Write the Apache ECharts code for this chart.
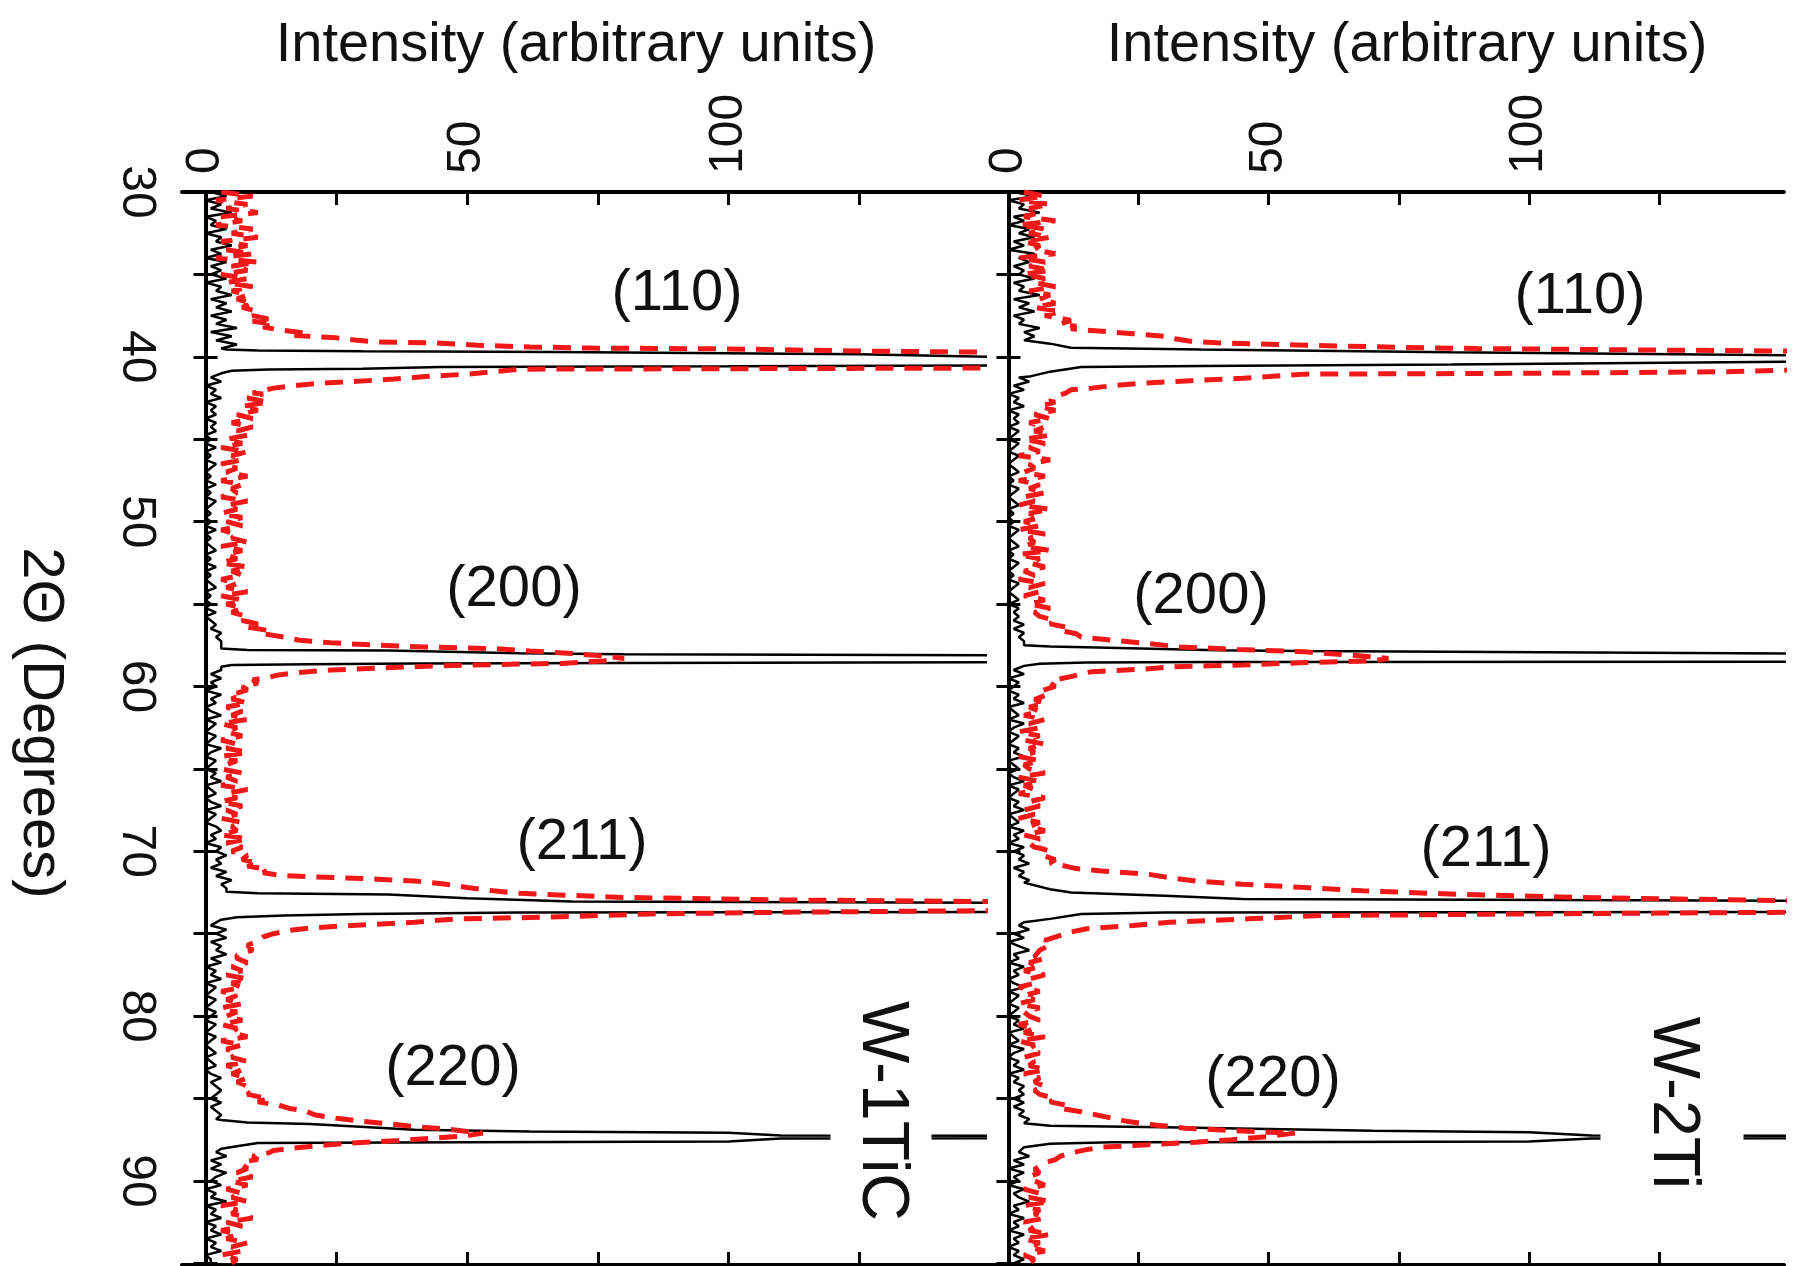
<!DOCTYPE html>
<html>
<head>
<meta charset="utf-8">
<script src="https://cdn.jsdelivr.net/npm/echarts@6/dist/echarts.min.js"></script>
<style>
  html, body { margin: 0; background: #fff; }
  #chart { width: 1806px; height: 1266px; }
</style>
</head>
<body>
<div id="chart"></div>
<script>
// 2theta grid of the background arrays: 30 to 95 deg, every 0.25 deg
var thetaStart = 30;
var thetaStep = 0.25;

var panelNames = ['W-1TiC', 'W-2Ti'];
var peakNames = ['(110)', '(200)', '(211)', '(220)'];
var intensityTicks = [0, 25, 50, 75, 100, 125];
var intensityLabels = [0, 50, 100];

// background counts (W-1TiC)
var blackW1TiCBg = [
  1,4,0,3,1,5,0,2,1,4,0,3,2,5,1,3,0,4,1,3,
  1,4,0,3,2,5,1,4,2,5,1,4,2,6,1,5,2,6,3,5,
  5,5,5,5,3,1,3,0,2,1,3,0,2,1,2,0,2,1,2,0,
  1,0,2,0,1,0,2,1,0,1,0,2,0,1,0,2,1,0,1,0,
  1,0,2,0,1,0,1,2,0,1,0,2,0,1,0,1,2,0,1,0,
  1,0,2,0,1,2,1,3,2,3,3,3,3,3,3,3,3,1,3,1,
  2,0,3,1,2,0,1,3,0,2,1,0,2,1,0,3,1,0,2,1,
  0,2,1,3,0,1,2,0,1,3,0,2,1,0,2,3,1,2,0,3,
  2,4,2,3,1,4,2,5,3,4,4,4,4,4,4,4,4,3,1,4,
  2,4,1,3,2,4,1,3,0,2,1,3,0,2,1,0,2,1,0,2,
  1,0,2,1,0,2,1,0,1,2,0,1,2,0,1,3,1,2,3,2,
  1,3,1,2,3,2,3,3,3,3,3,3,3,2,4,1,3,1,4,2,
  1,3,0,2,1,4,0,2,1,3,0,2,1,3,0,2,1,3,0,1,
  1
];
var redW1TiCBg = [
  3,9,2,8,4,10,3,7,2,9,5,10,3,8,4,9,2,10,5,8,
  3,8,4,9,5,8,6,9,7,10,9,9,9,9,9,9,9,9,9,9,
  9,9,9,9,9,9,9,9,9,11,8,12,7,10,6,9,5,9,6,8,
  4,7,3,8,5,7,3,6,4,8,3,7,5,6,3,8,4,6,3,7,
  4,7,3,6,5,8,3,7,4,6,3,8,5,7,3,6,4,8,3,7,
  4,7,5,8,9,9,9,9,9,9,9,9,9,9,9,9,9,9,9,9,
  9,9,7,5,8,4,7,5,8,3,6,4,7,3,6,4,8,3,6,4,
  3,7,4,6,3,8,4,6,3,7,4,6,3,7,5,6,3,8,4,7,
  5,8,9,9,9,9,9,9,9,9,9,9,9,9,9,9,9,9,9,9,
  9,9,9,9,9,9,6,8,5,7,4,8,5,7,3,6,4,7,3,6,
  4,7,3,6,5,8,3,7,4,6,5,8,4,7,5,8,6,8,9,9,
  9,9,9,9,9,9,9,9,9,9,9,9,9,9,9,9,9,8,6,9,
  5,8,4,7,5,8,3,6,5,9,4,7,3,6,4,8,5,7,3,6,
  5
];

// background counts (W-2Ti)
var blackW2TiBg = [
  1,5,0,3,2,6,1,3,0,4,2,5,1,3,0,5,2,4,1,3,
  2,5,1,3,2,6,1,4,2,5,1,3,2,6,3,5,3,3,3,3,
  3,3,3,3,3,2,4,1,3,0,2,1,3,0,2,1,2,0,2,1,
  0,2,1,0,2,1,0,1,2,0,1,0,2,1,0,1,2,0,1,0,
  1,0,2,1,0,1,2,0,1,0,2,1,0,1,0,2,1,0,1,2,
  0,2,1,2,1,3,1,3,2,3,3,3,3,3,3,3,1,3,0,2,
  1,0,2,1,3,0,1,2,0,3,1,0,2,1,0,2,1,3,0,1,
  2,0,1,3,0,2,1,0,2,1,3,0,1,2,0,3,1,2,0,3,
  1,3,2,4,1,3,2,4,3,3,3,3,3,3,3,3,3,3,2,4,
  1,3,0,2,4,1,2,0,3,1,2,0,1,3,0,2,1,0,2,1,
  0,2,1,3,0,1,2,0,3,1,0,2,1,3,0,2,1,3,2,3,
  1,3,1,3,2,4,3,3,3,3,3,3,3,2,4,1,3,0,3,1,
  2,0,3,1,2,4,1,2,0,3,1,2,0,3,1,2,0,2,1,3,
  1
];
var redW2TiBg = [
  3,7,2,8,4,6,3,9,2,7,4,8,3,6,5,9,2,7,4,8,
  3,7,5,9,4,8,6,9,5,10,7,9,9,9,9,9,9,9,9,9,
  9,9,9,9,9,9,9,9,9,9,9,9,6,9,5,8,4,7,5,8,
  3,7,4,6,2,8,4,5,3,7,2,6,4,7,3,5,2,8,4,6,
  3,6,2,7,4,5,3,8,2,6,4,7,3,5,2,7,4,6,3,7,
  4,8,5,6,6,6,6,6,6,6,6,6,6,6,6,6,6,6,6,6,
  6,6,6,6,7,4,6,3,7,4,6,2,6,3,7,4,5,2,6,3,
  4,7,2,6,3,5,2,7,4,6,3,5,2,6,4,7,3,6,4,5,
  6,6,6,6,6,6,6,6,6,6,6,6,6,6,6,6,6,6,6,6,
  6,6,6,6,6,6,7,4,6,3,7,4,5,2,6,3,5,2,6,3,
  4,6,2,5,3,7,2,5,4,6,3,5,4,7,3,6,5,7,5,6,
  6,6,6,6,6,6,6,6,6,6,6,6,6,6,6,6,6,6,6,4,
  5,7,3,6,4,8,3,6,5,7,3,5,4,8,3,6,4,7,3,5,
  4
];

// peak regions as [2theta, intensity]; these replace the background inside their range
var blackW1TiCPeaks = [
  [[39.55,4],[39.62,10],[39.66,30],[39.7,67],[39.85,125],[40.0,150],[40.1,400],[40.25,2500],[40.4,400],[40.52,150],[40.57,100],[40.62,45],[40.73,30],[40.77,12],[40.85,5]],
  [[57.7,3],[57.78,8],[57.82,35],[57.98,60],[58.05,80],[58.1,150],[58.2,600],[58.33,3000],[58.45,600],[58.53,150],[58.57,80],[58.6,40],[58.65,20],[58.7,5],[58.8,3]],
  [[72.45,4],[72.55,10],[72.62,35],[72.85,50],[73.05,70],[73.12,150],[73.25,500],[73.4,3000],[73.55,500],[73.68,150],[73.72,60],[73.8,30],[73.9,15],[74.0,6],[74.15,3]],
  [[86.3,3],[86.45,8],[86.55,20],[86.9,40],[87.0,62],[87.07,100],[87.24,110],[87.33,400],[87.43,110],[87.6,100],[87.65,50],[87.7,10],[87.9,6],[88.05,3]]
];
var redW1TiCPeaks = [
  [[37.5,9],[37.7,12],[37.85,9],[38.0,13],[38.2,11],[38.4,15],[38.55,19],[38.7,17],[38.85,25],[39.0,29],[39.1,33],[39.15,44],[39.3,52],[39.4,62],[39.47,74],[39.52,100],[39.65,125],[39.72,150],[39.9,300],[40.2,900],[40.5,300],[40.68,150],[40.72,100],[40.75,60],[40.9,55],[41.05,50],[41.2,42],[41.35,36],[41.5,28],[41.6,22],[41.75,17],[41.9,13],[42.05,11],[42.2,9]],
  [[56.0,7],[56.2,10],[56.4,8],[56.6,12],[56.8,11],[57.0,15],[57.2,18],[57.35,24],[57.5,33],[57.6,42],[57.7,55],[57.85,62],[58.0,70],[58.15,76],[58.3,80],[58.45,76],[58.6,68],[58.7,50],[58.8,40],[58.9,32],[59.0,24],[59.15,18],[59.3,14],[59.45,12],[59.6,9],[59.8,10],[60.0,7],[60.2,8],[60.4,6]],
  [[70.5,7],[70.7,10],[70.9,8],[71.1,12],[71.3,11],[71.45,14],[71.55,20],[71.65,30],[71.8,40],[72.0,46],[72.2,50],[72.4,55],[72.55,60],[72.8,80],[72.95,110],[73.05,150],[73.3,400],[73.6,150],[73.7,110],[73.8,85],[74.0,65],[74.1,48],[74.3,40],[74.5,28],[74.65,20],[74.8,16],[75.0,13],[75.2,11],[75.45,10],[75.7,8],[76.0,9],[76.3,6]],
  [[84.5,9],[84.75,8],[85.0,12],[85.2,10],[85.4,14],[85.6,16],[85.75,19],[86.0,21],[86.2,25],[86.35,29],[86.5,34],[86.7,40],[86.85,46],[87.0,50],[87.1,53],[87.25,50],[87.4,44],[87.55,37],[87.7,28],[87.85,22],[88.0,17],[88.15,13],[88.3,12],[88.5,9],[88.7,10],[88.85,7],[89.0,7]]
];
var blackW2TiPeaks = [
  [[39.1,3],[39.2,8],[39.45,12],[39.55,37],[39.72,85],[39.9,150],[40.0,400],[40.1,3000],[40.2,400],[40.3,150],[40.47,85],[40.55,37],[40.62,14],[40.9,8],[41.2,4]],
  [[57.5,3],[57.58,8],[57.63,17],[57.8,40],[57.85,56],[58.0,150],[58.12,600],[58.25,3000],[58.38,600],[58.5,150],[58.52,40],[58.55,15],[58.62,6],[58.75,3]],
  [[71.9,3],[72.3,8],[72.5,12],[72.7,30],[72.9,45],[73.0,150],[73.12,600],[73.35,3000],[73.55,600],[73.68,150],[73.72,30],[73.8,14],[74.1,8],[74.3,3]],
  [[86.5,3],[86.65,8],[86.75,30],[86.95,70],[87.05,100],[87.24,112],[87.33,400],[87.42,112],[87.6,100],[87.63,60],[87.66,20],[87.75,8],[87.95,3]]
];
var redW2TiPeaks = [
  [[37.6,9],[37.8,12],[38.0,10],[38.15,13],[38.3,12],[38.45,18],[38.6,24],[38.75,30],[38.9,32],[39.05,35],[39.15,40],[39.3,58],[39.42,75],[39.5,90],[39.58,120],[39.65,150],[39.9,400],[40.3,900],[40.7,400],[40.8,150],[40.9,138],[41.0,100],[41.05,57],[41.2,50],[41.3,45],[41.45,35],[41.6,26],[41.75,20],[41.9,16],[42.0,12],[42.2,11],[42.4,9],[42.7,8]],
  [[55.8,6],[56.0,9],[56.2,8],[56.4,11],[56.6,10],[56.8,13],[57.0,14],[57.2,20],[57.4,27],[57.6,33],[57.75,44],[57.9,57],[58.1,66],[58.3,73],[58.45,70],[58.55,57],[58.7,45],[58.8,32],[58.95,26],[59.1,16],[59.25,14],[59.4,12],[59.6,9],[59.8,8],[60.0,9],[60.3,6],[60.55,7],[60.8,5]],
  [[69.8,6],[70.0,8],[70.3,7],[70.5,9],[70.7,8],[70.9,11],[71.05,13],[71.2,18],[71.4,27],[71.6,31],[71.8,36],[72.0,45],[72.2,57],[72.4,68],[72.6,86],[72.8,110],[73.0,150],[73.35,400],[73.7,150],[73.8,100],[73.9,60],[74.1,46],[74.3,31],[74.5,24],[74.7,15],[74.9,12],[75.1,10],[75.4,7],[75.7,8],[76.0,6],[76.4,5]],
  [[84.8,6],[85.0,9],[85.2,8],[85.4,11],[85.6,10],[85.8,14],[86.0,17],[86.2,20],[86.4,23],[86.6,28],[86.8,34],[86.95,43],[87.1,55],[87.3,50],[87.5,43],[87.65,36],[87.8,27],[87.95,18],[88.1,15],[88.3,12],[88.5,10],[88.7,9],[88.9,7],[89.1,6],[89.3,5]]
];

var FONT = 'Liberation Sans, Arial, Helvetica, sans-serif';

// merge background + peak pieces into [intensity, 2theta] points sorted by 2theta
function buildLine(bg, peaks) {
  var pts = [];
  bg.forEach(function (v, i) {
    var t = thetaStart + i * thetaStep;
    var inPeak = peaks.some(function (p) { return t >= p[0][0] && t <= p[p.length - 1][0]; });
    if (!inPeak) pts.push([v, t]);
  });
  peaks.forEach(function (p) {
    p.forEach(function (d) { pts.push([d[1], d[0]]); });
  });
  pts.sort(function (a, b) { return a[1] - b[1]; });
  return pts;
}

var chart = echarts.init(document.getElementById('chart'));

var axisLineStyle = { color: '#000', width: 4 };
var tickStyle = { color: '#000', width: 3 };

function xAx(grid, pos, labels) {
  return {
    type: 'value', gridIndex: grid, position: pos,
    min: -4.5, max: 149,
    axisLine: { show: true, lineStyle: axisLineStyle },
    axisTick: { show: true, inside: true, length: 13, lineStyle: tickStyle, customValues: intensityTicks },
    axisLabel: labels ? {
      show: true, customValues: intensityLabels, rotate: -90, margin: 18,
      fontSize: 48, color: '#111', fontFamily: FONT
    } : { show: false },
    splitLine: { show: false }
  };
}
function yAx(grid, pos, labels) {
  return {
    type: 'value', gridIndex: grid, position: pos, inverse: true,
    min: 30, max: 95.1, interval: 5,
    axisLine: { show: true, lineStyle: axisLineStyle },
    axisTick: { show: true, inside: true, length: 12, lineStyle: tickStyle },
    axisLabel: labels ? {
      show: true, rotate: -90, margin: 22, fontSize: 48, color: '#111', fontFamily: FONT,
      formatter: function (v) { return v % 10 === 0 ? String(v) : ''; }
    } : { show: false },
    splitLine: { show: false }
  };
}

function lineSeries(xi, yi, data, color, width, dash, z) {
  return {
    type: 'line', xAxisIndex: xi, yAxisIndex: yi, data: data,
    showSymbol: false, symbol: 'none', silent: true, clip: true, z: z,
    lineStyle: { color: color, width: width, type: dash },
    emphasis: { disabled: true }
  };
}

var txt = function (s, x, y, size, rot, extra) {
  var st = { text: s, x: 0, y: 0, font: size + 'px ' + FONT, fill: '#111', align: 'center', verticalAlign: 'middle' };
  if (extra) for (var k in extra) st[k] = extra[k];
  return { type: 'text', x: x, y: y, rotation: rot || 0, z: 100, silent: true, style: st };
};

var option = {
  backgroundColor: '#fff',
  animation: false,
  grid: [
    { left: 182, top: 192, width: 803, height: 1073, containLabel: false, outerBoundsMode: 'none' },
    { left: 985, top: 192, width: 799, height: 1073, containLabel: false, outerBoundsMode: 'none' }
  ],
  xAxis: [xAx(0, 'top', true), xAx(0, 'bottom', false), xAx(1, 'top', true), xAx(1, 'bottom', false)],
  yAxis: [yAx(0, 'left', true), yAx(0, 'right', false), yAx(1, 'left', false), yAx(1, 'right', false)],
  series: [
    lineSeries(0, 0, buildLine(blackW1TiCBg, blackW1TiCPeaks), '#000', 2.5, 'solid', 2),
    lineSeries(0, 0, buildLine(redW1TiCBg, redW1TiCPeaks), '#f01818', 5, [18, 11], 3),
    lineSeries(2, 2, buildLine(blackW2TiBg, blackW2TiPeaks), '#000', 2.5, 'solid', 2),
    lineSeries(2, 2, buildLine(redW2TiBg, redW2TiPeaks), '#f01818', 5, [18, 11], 3)
  ],
  graphic: [
    txt('Intensity (arbitrary units)', 576, 46, 56),
    txt('Intensity (arbitrary units)', 1407, 46, 56),
    txt('2\u0398 (Degrees)', 40, 723, 58, -Math.PI / 2),
    txt(peakNames[0], 677, 294, 58), txt(peakNames[1], 514, 590, 58),
    txt(peakNames[2], 582, 843, 58), txt(peakNames[3], 453, 1069, 58),
    txt(peakNames[0], 1580, 297, 58), txt(peakNames[1], 1201, 597, 58),
    txt(peakNames[2], 1486, 850, 58), txt(peakNames[3], 1273, 1080, 58),
    txt(panelNames[0], 881, 1111, 66, -Math.PI / 2, { backgroundColor: '#fff', padding: [19, 6, 16, 6] }),
    txt(panelNames[1], 1672, 1103, 66, -Math.PI / 2, { backgroundColor: '#fff', padding: [28, 6, 49, 6] })
  ]
};

chart.setOption(option);
</script>
</body>
</html>
